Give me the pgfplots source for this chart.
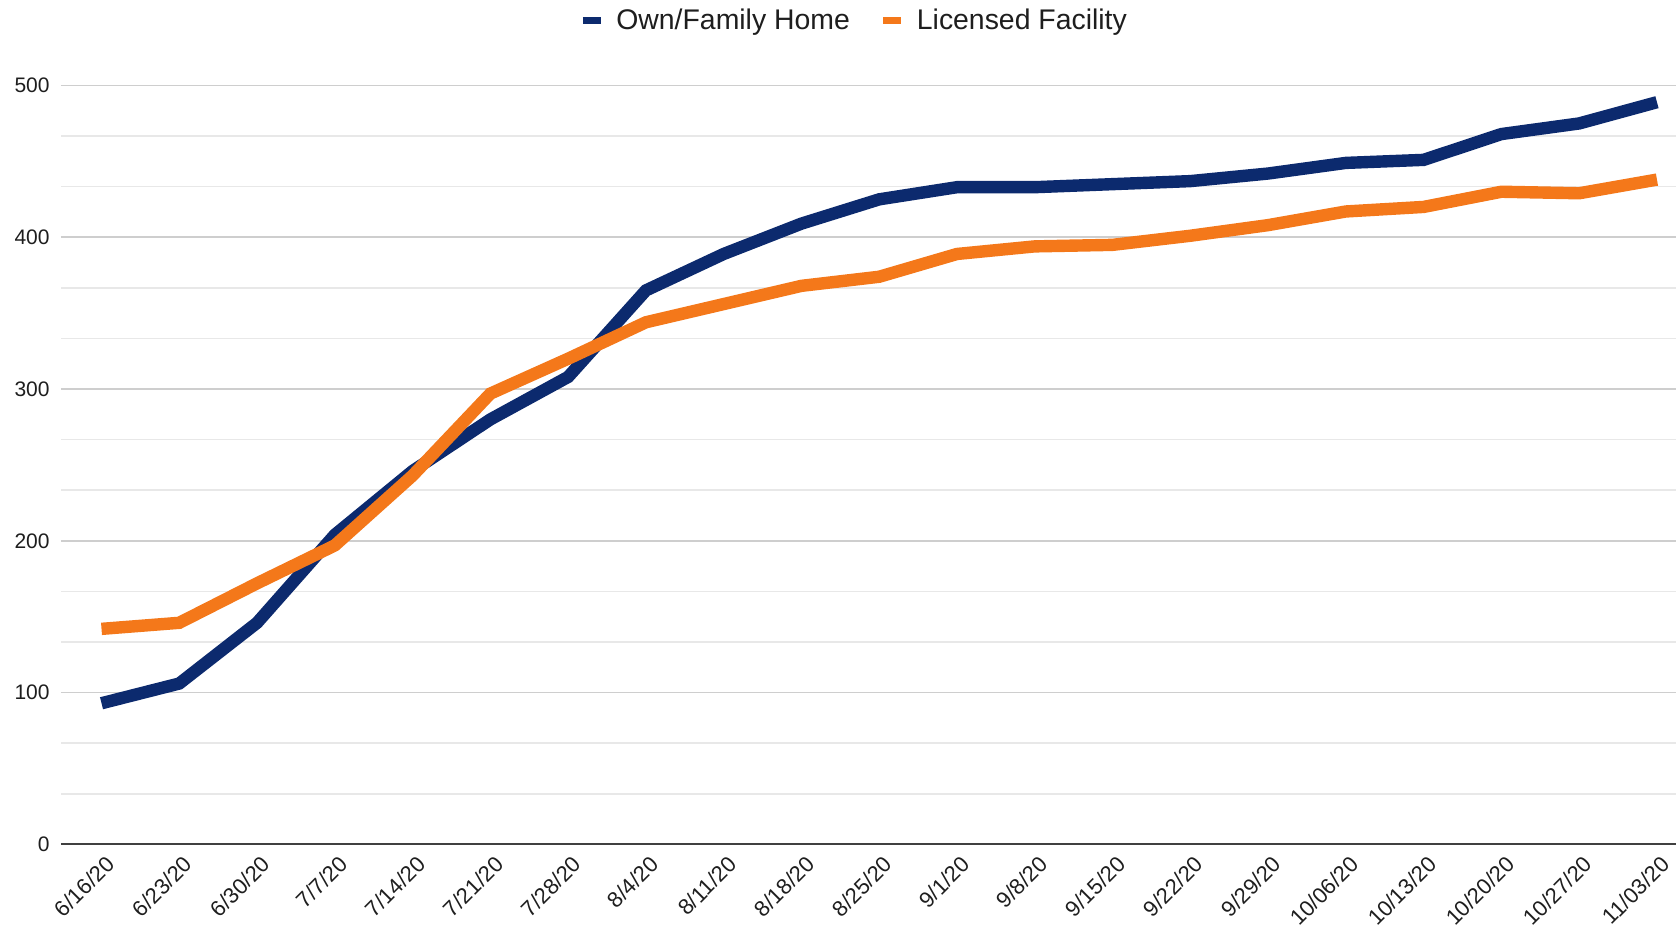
\documentclass[border=0pt]{standalone}
\usepackage{fontspec}
\setmainfont{Liberation Sans}
\usepackage{pgfplots}
\pgfplotsset{compat=1.18}
\definecolor{navy}{RGB}{12,42,110}
\definecolor{orng}{RGB}{244,120,26}
\definecolor{majgrid}{RGB}{206,206,206}
\definecolor{mingrid}{RGB}{232,232,232}
\definecolor{txt}{RGB}{30,30,30}
\begin{document}
\begin{tikzpicture}
\begin{axis}[
  scale only axis,
  width=807.5pt, height=379.45pt,
  xmin=-0.521, xmax=20.245,
  ymin=0, ymax=500,
  clip=false,
  /pgf/number format/assume math mode=true,
  xtick={0,...,20},
  xticklabels={6/16/20,6/23/20,6/30/20,7/7/20,7/14/20,7/21/20,7/28/20,8/4/20,8/11/20,8/18/20,8/25/20,9/1/20,9/8/20,9/15/20,9/22/20,9/29/20,10/06/20,10/13/20,10/20/20,10/27/20,11/03/20},
  ytick={0,100,200,300,400,500},
  minor y tick num=2,
  ymajorgrids, yminorgrids,
  major grid style={draw=majgrid, line width=0.8pt},
  minor grid style={draw=mingrid, line width=0.8pt},
  major tick length=0pt, minor tick length=0pt,
  axis x line*=bottom, axis y line*=left,
  y axis line style={draw=none},
  x axis line style={draw=txt!85, line width=1pt, -},
  xticklabel style={font=\fontsize{11}{13}\selectfont, text=txt, anchor=east, inner sep=0pt, xshift=4.5pt, yshift=-8pt, rotate=45},
  yticklabel style={font=\fontsize{10.5}{12}\selectfont, text=txt, inner sep=0pt, xshift=-5.5pt},
  legend columns=2,
  legend style={at={(axis description cs:0.4917,1.086)}, anchor=center, draw=none, fill=none,
    font=\fontsize{14.2}{16}\selectfont, text=txt,
    /tikz/every odd column/.append style={column sep=4pt},
    /tikz/every even column/.append style={column sep=13pt}},
  legend image code/.code={\draw[line width=3.5pt, line cap=butt] (0pt,0pt) -- (9pt,0pt);},
]
\addplot[navy, line width=6.2pt] coordinates {
 (0,93) (1,106) (2,146) (3,204) (4,246) (5,280) (6,308) (7,365) (8,389) (9,409) (10,425)
 (11,433) (12,433) (13,435) (14,437) (15,442) (16,449) (17,451) (18,468) (19,475) (20,489)};
\addlegendentry{Own/Family Home}
\addplot[orng, line width=6.2pt] coordinates {
 (0,142) (1,146) (2,172) (3,197) (4,243) (5,297) (6,320) (7,344) (8,356) (9,368) (10,374)
 (11,389) (12,394) (13,395) (14,401) (15,408) (16,417) (17,420) (18,430) (19,429) (20,438)};
\addlegendentry{Licensed Facility}
\coordinate (SW) at (rel axis cs:0,0);
\coordinate (NE) at (rel axis cs:1,1);
\end{axis}
\pgfresetboundingbox
\path ([shift={(-30.5pt,-40.8pt)}]SW) rectangle ([shift={(0pt,42.75pt)}]NE);
\end{tikzpicture}
\end{document}
